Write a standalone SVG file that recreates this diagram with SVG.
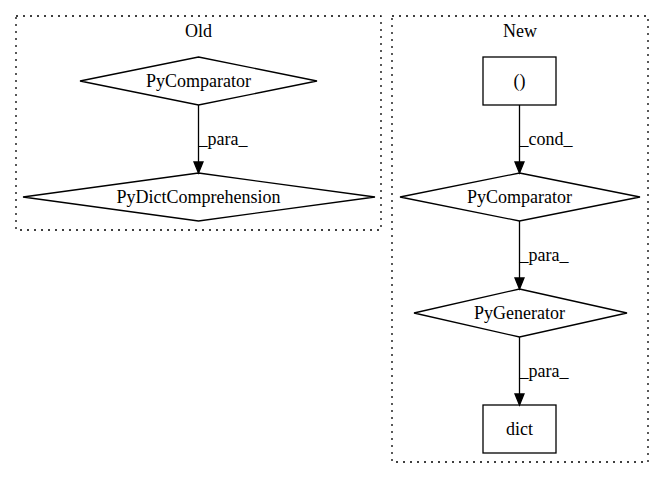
<svg xmlns="http://www.w3.org/2000/svg" width="664" height="480" viewBox="0 0 664 480">
<style>
text{font-family:"Liberation Serif","Times New Roman",Times,serif;font-size:18px;fill:#000;text-anchor:middle}
.cl{fill:none;stroke:#000;stroke-dasharray:2,5;stroke-width:1.3}
.nd{fill:none;stroke:#000;stroke-width:1.3}
.ed{stroke:#000;stroke-width:1.3;fill:none}
.ah{fill:#000;stroke:#000;stroke-width:1.3}
</style>
<rect width="664" height="480" fill="#fff"/>
<g id="cluster_old">
<rect class="cl" x="16" y="16" width="365" height="214"/>
<text x="198.5" y="37">Old</text>
</g>
<g id="cluster_new">
<rect class="cl" x="392" y="16" width="256" height="446"/>
<text x="520" y="37">New</text>
</g>
<g id="old_pycomparator">
<polygon class="nd" points="198.5,57 317,81 198.5,105 80,81"/>
<text x="198.5" y="87">PyComparator</text>
</g>
<g id="old_pydictcomprehension">
<polygon class="nd" points="198.5,173 375,197 198.5,221 23,197"/>
<text x="198.5" y="203">PyDictComprehension</text>
</g>
<g id="new_tuple">
<rect class="nd" x="483" y="57" width="73" height="48"/>
<text x="519.5" y="87">()</text>
</g>
<g id="new_pycomparator">
<polygon class="nd" points="519.5,173 640,197 519.5,221 400,197"/>
<text x="519.5" y="203">PyComparator</text>
</g>
<g id="new_pygenerator">
<polygon class="nd" points="519.5,289 627,313 519.5,337 414,313"/>
<text x="519.5" y="319">PyGenerator</text>
</g>
<g id="new_dict">
<rect class="nd" x="483" y="405" width="73" height="48"/>
<text x="519.5" y="435">dict</text>
</g>
<g id="connectors">
<line class="ed" x1="198.5" y1="105" x2="198.5" y2="162"/>
<polygon class="ah" points="194,162 198.5,173 203,162"/>
<text x="223" y="145">_para_</text>
<line class="ed" x1="519.5" y1="105" x2="519.5" y2="162"/>
<polygon class="ah" points="515,162 519.5,173 524,162"/>
<text x="546" y="145">_cond_</text>
<line class="ed" x1="519.5" y1="221" x2="519.5" y2="278"/>
<polygon class="ah" points="515,278 519.5,289 524,278"/>
<text x="544" y="261">_para_</text>
<line class="ed" x1="519.5" y1="337" x2="519.5" y2="394"/>
<polygon class="ah" points="515,394 519.5,405 524,394"/>
<text x="544" y="377">_para_</text>
</g>
</svg>
